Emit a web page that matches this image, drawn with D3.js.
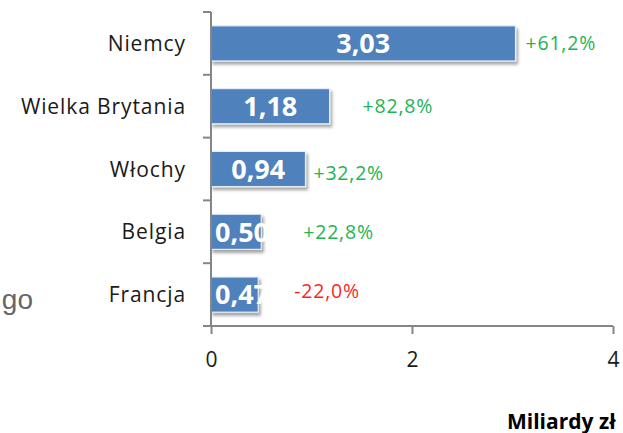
<!DOCTYPE html>
<html lang="pl">
<head>
    <meta charset="UTF-8">
    <title>Miliardy zł</title>
    <script src="https://d3js.org/d3.v7.min.js"></script>
    <style>
        html, body { margin: 0; padding: 0; background: #fff; }
        svg { display: block; }
    </style>
</head>
<body>
    <div id="chart"></div>

    <script>
        // data
        const countries = ["Niemcy", "Wielka Brytania", "Włochy", "Belgia", "Francja"];
        const values = [3.03, 1.18, 0.94, 0.50, 0.47];
        const changes = ["+61,2%", "+82,8%", "+32,2%", "+22,8%", "-22,0%"];
        const xTicks = [0, 2, 4];

        // hand-placed change labels: gap after the bar end and vertical nudge (px)
        const changeGap = [10, 33, 8, 42, 36];
        const changeDy = [0, 0, 4, 0, -4];

        const width = 623;
        const height = 433;

        const svg = d3.select("#chart")
            .append("svg")
            .attr("width", width)
            .attr("height", height);

        svg.append("rect")
            .attr("width", width)
            .attr("height", height)
            .attr("fill", "#fff");

        const defs = svg.append("defs");
        defs.append("filter")
            .attr("id", "shadow")
            .attr("x", "-10%").attr("y", "-20%")
            .attr("width", "130%").attr("height", "160%")
            .append("feDropShadow")
            .attr("dx", 2)
            .attr("dy", 3)
            .attr("stdDeviation", 1.8)
            .attr("flood-color", "#000")
            .attr("flood-opacity", 0.35);

        const x = d3.scaleLinear()
            .domain([0, 4])
            .range([211, 613]);

        const y = d3.scaleBand()
            .domain(countries)
            .range([12, 326])
            .paddingInner(0.44)
            .paddingOuter(0.22);

        const axisColor = "#868686";
        const textFont = "'Open Sans', sans-serif";

        // stray text cut off on the left edge
        svg.append("text")
            .attr("x", 33)
            .attr("y", 309)
            .attr("text-anchor", "end")
            .attr("font-family", "'Liberation Sans', Arial, sans-serif")
            .attr("font-size", 28)
            .attr("fill", "#666")
            .text("go");

        // bars
        const bars = svg.append("g")
            .selectAll("g")
            .data(countries)
            .enter().append("g");

        bars.append("rect")
            .attr("x", x(0))
            .attr("y", d => y(d))
            .attr("width", (d, i) => x(values[i]) - x(0))
            .attr("height", y.bandwidth())
            .attr("fill", "#4f81bd")
            .attr("stroke", "#e4ecf6")
            .attr("stroke-width", 1.2)
            .attr("filter", "url(#shadow)");

        // value labels (white, may run past a short bar)
        const fmt = v => d3.format(".2f")(v).replace(".", ",");
        bars.append("text")
            .attr("y", d => y(d) + y.bandwidth() / 2)
            .attr("dy", "0.36em")
            .attr("text-anchor", "middle")
            .attr("font-family", textFont)
            .attr("font-weight", "bold")
            .attr("font-size", 27)
            .attr("fill", "#fff")
            .text((d, i) => fmt(values[i]))
            .attr("x", function (d, i) {
                const tw = this.getComputedTextLength();
                const mid = (x(0) + x(values[i])) / 2;
                return Math.max(mid, x(0) + 4 + tw / 2);
            });

        // change labels
        bars.append("text")
            .attr("x", (d, i) => x(values[i]) + changeGap[i])
            .attr("y", (d, i) => y(d) + y.bandwidth() / 2 + changeDy[i])
            .attr("dy", "0.36em")
            .attr("font-family", textFont)
            .attr("font-size", 19.5)
            .attr("letter-spacing", 0.8)
            .attr("fill", (d, i) => changes[i].startsWith("-") ? "#ff1f1f" : "#22b455")
            .text((d, i) => changes[i]);

        // category axis
        const yAxis = svg.append("g");
        yAxis.append("line")
            .attr("x1", x(0)).attr("x2", x(0))
            .attr("y1", y.range()[0]).attr("y2", y.range()[1])
            .attr("stroke", axisColor)
            .attr("stroke-width", 2);

        const bounds = d3.range(countries.length + 1).map(i => y.range()[0] + i * y.step());
        yAxis.selectAll("line.tick")
            .data(bounds)
            .enter().append("line")
            .attr("class", "tick")
            .attr("x1", x(0) - 8).attr("x2", x(0))
            .attr("y1", d => d).attr("y2", d => d)
            .attr("stroke", axisColor)
            .attr("stroke-width", 2);

        yAxis.selectAll("text")
            .data(countries)
            .enter().append("text")
            .attr("x", 186)
            .attr("y", d => y(d) + y.bandwidth() / 2)
            .attr("dy", "0.36em")
            .attr("text-anchor", "end")
            .attr("font-family", textFont)
            .attr("font-size", 21)
            .attr("letter-spacing", 0.9)
            .attr("fill", "#1a1a1a")
            .text(d => d);

        // value axis
        const xAxis = svg.append("g")
            .attr("transform", `translate(0,${y.range()[1]})`)
            .call(d3.axisBottom(x)
                .tickValues(xTicks)
                .tickSize(8)
                .tickPadding(18)
                .tickFormat(d3.format("d")));

        xAxis.select(".domain")
            .attr("stroke", axisColor)
            .attr("stroke-width", 2)
            .attr("d", `M${x(0)},0H${x(4)}`);
        xAxis.selectAll(".tick line")
            .attr("stroke", axisColor)
            .attr("stroke-width", 2);
        xAxis.selectAll(".tick text")
            .attr("font-family", textFont)
            .attr("font-size", 21)
            .attr("fill", "#1a1a1a");

        // axis title, clipped by the right edge
        svg.append("text")
            .attr("x", 507)
            .attr("y", 429)
            .attr("font-family", textFont)
            .attr("font-weight", "bold")
            .attr("font-size", 21)
            .attr("fill", "#000")
            .text("Miliardy zł");
    </script>
</body>
</html>
